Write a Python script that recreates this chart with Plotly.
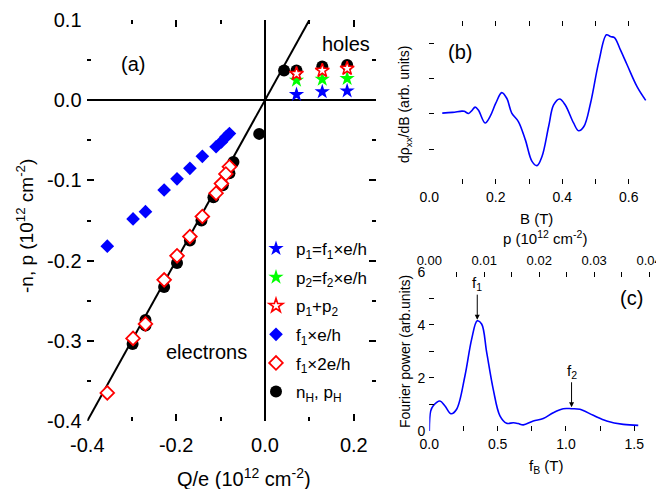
import plotly.graph_objects as go

# ---------------- panel (a): carrier densities vs induced charge ----------------
# Hall densities n_H, p_H
hall_q = [0.185, 0.129, 0.071, 0.043, -0.013, -0.071, -0.080, -0.095, -0.116,
          -0.143, -0.169, -0.198, -0.227, -0.269, -0.269, -0.298]
hall_n = [0.044, 0.042, 0.037, 0.037, -0.042, -0.077, -0.091, -0.106, -0.121,
          -0.150, -0.175, -0.203, -0.233, -0.274, -0.281, -0.304]

# hole densities from the two Fourier frequencies
hole_q = [0.071, 0.129, 0.185]
p1 = [0.007, 0.0104, 0.0116]
p2 = [0.025, 0.026, 0.027]
p_sum = [0.033, 0.037, 0.0395]

# electron densities from f1
elec_q = [-0.080, -0.088, -0.098, -0.110, -0.141, -0.169, -0.198, -0.227,
          -0.269, -0.297, -0.355]
f1_e = [-0.0415, -0.046, -0.052, -0.058, -0.070, -0.085, -0.098, -0.112,
        -0.139, -0.148, -0.182]
f1_2e = [-0.083, -0.092, -0.104, -0.116, -0.145, -0.170, -0.194, -0.224,
         -0.279, -0.297, -0.365]

# n = Q/e reference line
line_q = [-0.4, 0.1]
line_slope = 1.0

# ---------------- panel (b): derivative of rho_xx ----------------
b_field = [0.039, 0.070, 0.098, 0.105, 0.118, 0.128, 0.138, 0.148, 0.168, 0.183,
           0.200, 0.218, 0.233, 0.248, 0.268, 0.289, 0.309, 0.324, 0.339, 0.359,
           0.374, 0.392, 0.409, 0.434, 0.449, 0.465, 0.485, 0.510, 0.533, 0.545,
           0.557, 0.575, 0.595, 0.625, 0.651]
drho = [0.02, 0.04, 0.075, 0.07, 0.01, 0.09, 0.19, 0.10, -0.26, -0.075,
        0.30, 0.60, 0.44, 0.02, -0.22, -0.74, -1.35, -1.47, -1.21, -0.36,
        0.25, 0.42, 0.25, -0.26, -0.48, -0.36, 0.30, 1.48, 2.24, 2.19,
        2.16, 1.81, 1.39, 0.77, 0.38]

# ---------------- panel (c): Fourier spectrum ----------------
f_b = [0.0, 0.010, 0.029, 0.078, 0.115, 0.159, 0.200, 0.261, 0.310, 0.351,
       0.383, 0.420, 0.468, 0.517, 0.566, 0.615, 0.651, 0.688, 0.761, 0.834,
       0.907, 0.980, 1.041, 1.102, 1.200, 1.298, 1.420, 1.529]
power = [0.0, 0.75, 0.95, 1.13, 0.94, 0.65, 0.82, 2.08, 3.46, 4.15,
         4.03, 2.96, 1.57, 0.57, 0.29, 0.31, 0.28, 0.23, 0.38, 0.47,
         0.69, 0.84, 0.84, 0.82, 0.59, 0.38, 0.25, 0.21]
f1_peak = (0.351, 4.19)
f2_peak = (1.041, 0.89)
p_per_tesla = 0.02486  # density scale for the top axis

FONT = "Liberation Sans, Arial, sans-serif"
BLUE, GREEN, RED = "#0000ff", "#00ff00", "#ff0000"

fig = go.Figure()

# legend order follows insertion order; zorder sets the stacking of the marks
fig.add_trace(go.Scatter(x=line_q, y=[line_slope * q for q in line_q], mode="lines",
                         line=dict(color="black", width=2), showlegend=False, zorder=0,
                         xaxis="x", yaxis="y"))
fig.add_trace(go.Scatter(x=hole_q, y=p1, mode="markers", name="p<sub>1</sub>=f<sub>1</sub>×e/h",
                         marker=dict(symbol="star", size=11.5, color=BLUE, line=dict(width=0)),
                         legendgroup="g1", zorder=2, xaxis="x", yaxis="y"))
fig.add_trace(go.Scatter(x=hole_q, y=p2, mode="markers", name="p<sub>2</sub>=f<sub>2</sub>×e/h",
                         marker=dict(symbol="star", size=11.5, color=GREEN, line=dict(width=0)),
                         legendgroup="g2", zorder=2, xaxis="x", yaxis="y"))
fig.add_trace(go.Scatter(x=hole_q, y=p_sum, mode="markers", name="p<sub>1</sub>+p<sub>2</sub>",
                         marker=dict(symbol="star", size=10.5, color="white",
                                     line=dict(color=RED, width=1.6)),
                         legendgroup="g3", zorder=3, xaxis="x", yaxis="y"))
fig.add_trace(go.Scatter(x=elec_q, y=f1_e, mode="markers", name="f<sub>1</sub>×e/h",
                         marker=dict(symbol="diamond", size=10.5, color=BLUE, line=dict(width=0)),
                         legendgroup="g4", zorder=3, xaxis="x", yaxis="y"))
fig.add_trace(go.Scatter(x=elec_q, y=f1_2e, mode="markers", name="f<sub>1</sub>×2e/h",
                         marker=dict(symbol="diamond", size=10.5, color="white",
                                     line=dict(color=RED, width=1.8)),
                         legendgroup="g5", zorder=3, xaxis="x", yaxis="y"))
fig.add_trace(go.Scatter(x=hall_q, y=hall_n, mode="markers", name="n<sub>H</sub>, p<sub>H</sub>",
                         marker=dict(symbol="circle", size=12, color="black"),
                         legendgroup="g6", zorder=1, xaxis="x", yaxis="y"))

fig.add_trace(go.Scatter(x=b_field, y=drho, mode="lines", line=dict(color=BLUE, width=1.6, shape="spline"),
                         showlegend=False, xaxis="x2", yaxis="y2"))
fig.add_trace(go.Scatter(x=f_b, y=power, mode="lines", line=dict(color=BLUE, width=1.6, shape="spline"),
                         showlegend=False, xaxis="x3", yaxis="y3"))

W, H = 656, 489


def px_x(p):
    return p / W


def px_y(p):
    return 1 - p / H


axis_common = dict(showline=True, linecolor="black", ticks="inside", tickcolor="black",
                   showgrid=False, zeroline=False, color="black", automargin=False)

fig.update_layout(
    width=W, height=H, margin=dict(l=0, r=0, t=0, b=0, autoexpand=False),
    paper_bgcolor="white", plot_bgcolor="white",
    font=dict(family=FONT, color="black"),
    xaxis=dict(axis_common, domain=[px_x(87.3), px_x(376)], range=[-0.4, 0.25], anchor="y",
               linewidth=1.5, mirror="ticks", tickvals=[-0.4, -0.2, 0.0, 0.2],
               ticktext=["-0.4", "-0.2", "0.0", "0.2"], ticklen=7, tickwidth=1.5,
               minor=dict(dtick=0.1, tick0=0, ticks="inside", ticklen=4, tickcolor="black", tickwidth=1.5),
               tickfont=dict(size=20), ticklabelstandoff=5,
               zeroline=True, zerolinecolor="black", zerolinewidth=2),
    yaxis=dict(axis_common, domain=[px_y(421), px_y(20)], range=[-0.4, 0.1], anchor="x",
               linewidth=1.5, mirror="ticks", tickvals=[-0.4, -0.3, -0.2, -0.1, 0.0, 0.1],
               ticktext=["-0.4", "-0.3", "-0.2", "-0.1", "0.0", "0.1"], ticklen=7, tickwidth=1.5,
               minor=dict(dtick=0.05, tick0=0, ticks="inside", ticklen=4, tickcolor="black", tickwidth=1.5),
               tickfont=dict(size=20), zeroline=True, zerolinecolor="black", zerolinewidth=2),
    xaxis2=dict(axis_common, domain=[px_x(429.3), 1.0], range=[0, 0.682], anchor="y2",
                linewidth=1.3, mirror="ticks", dtick=0.2, tickformat=".1f", ticklen=5,
                minor=dict(dtick=0.1, ticks="inside", ticklen=5, tickcolor="black"),
                tickfont=dict(size=14), ticklabeloverflow="allow"),
    yaxis2=dict(axis_common, domain=[px_y(184.3), px_y(20.7)], range=[-2, 2.64], anchor="x2",
                linewidth=1.3, tickvals=[-1, 0, 1, 2], showticklabels=False, ticklen=5),
    xaxis3=dict(axis_common, domain=[px_x(429.3), 1.0], range=[0, 1.659], anchor="y3",
                linewidth=1.3, dtick=0.5, tickformat=".1f", ticklen=5,
                minor=dict(dtick=0.25, ticks="inside", ticklen=5, tickcolor="black"),
                tickfont=dict(size=14), ticklabeloverflow="allow"),
    xaxis4=dict(axis_common, overlaying="x3", side="top", anchor="y3",
                range=[0, 1.659 * p_per_tesla], linewidth=1.3, dtick=0.01, tickformat=".2f",
                ticklen=5, minor=dict(dtick=0.005, ticks="inside", ticklen=5, tickcolor="black"),
                tickfont=dict(size=13), ticklabeloverflow="allow"),
    yaxis3=dict(axis_common, domain=[px_y(431), px_y(271.7)], range=[0, 6], anchor="x3",
                linewidth=1.3, dtick=2, ticklen=5,
                minor=dict(dtick=1, ticks="inside", ticklen=5, tickcolor="black"),
                tickfont=dict(size=14)),
    legend=dict(x=px_x(256), y=px_y(231), xanchor="left", yanchor="top",
                bgcolor="rgba(0,0,0,0)", font=dict(size=17), itemwidth=30,
                traceorder="grouped", tracegroupgap=3.5),
    showlegend=True,
)

# keep the top density axis visible
fig.add_trace(go.Scatter(x=[0], y=[0], mode="markers", marker=dict(opacity=0), showlegend=False,
                         hoverinfo="skip", xaxis="x4", yaxis="y3"))

annotations = [
    # panel (a)
    dict(x=-0.297, y=0.0456, xref="x", yref="y", text="(a)", font=dict(size=20)),
    dict(x=0.182, y=0.0707, xref="x", yref="y", text="holes", font=dict(size=20)),
    dict(x=-0.131, y=-0.314, xref="x", yref="y", text="electrons", font=dict(size=20)),
    dict(x=px_x(244), y=px_y(477), xref="paper", yref="paper",
         text="Q/e (10<sup>12</sup> cm<sup>-2</sup>)", font=dict(size=20)),
    dict(x=px_x(25), y=px_y(226), xref="paper", yref="paper", textangle=-90,
         text="-n, p (10<sup>12</sup> cm<sup>-2</sup>)", font=dict(size=19)),
    # panel (b)
    dict(x=0.092, y=1.765, xref="x2", yref="y2", text="(b)", font=dict(size=20)),
    dict(x=px_x(536), y=px_y(218), xref="paper", yref="paper", text="B (T)", font=dict(size=15)),
    dict(x=px_x(405), y=px_y(105), xref="paper", yref="paper", textangle=-90,
         text="dρ<sub>xx</sub>/dB (arb. units)", font=dict(size=14)),
    # panel (c)
    dict(x=1.481, y=5.0, xref="x3", yref="y3", text="(c)", font=dict(size=20)),
    dict(x=px_x(545), y=px_y(237), xref="paper", yref="paper",
         text="p (10<sup>12</sup> cm<sup>-2</sup>)", font=dict(size=15)),
    dict(x=px_x(546), y=px_y(466), xref="paper", yref="paper",
         text="f<sub>B</sub> (T)", font=dict(size=15)),
    dict(x=px_x(405), y=px_y(352), xref="paper", yref="paper", textangle=-90,
         text="Fourier power (arb.units)", font=dict(size=14)),
]
for a in annotations:
    a.update(showarrow=False, xanchor="center", yanchor="middle")

# arrows marking the two Fourier peaks
annotations += [
    dict(x=f1_peak[0], y=f1_peak[1], xref="x3", yref="y3", ax=f1_peak[0], ay=5.55,
         axref="x3", ayref="y3", text="f<sub>1</sub>", font=dict(size=15),
         showarrow=True, arrowhead=2, arrowsize=1, arrowwidth=1, arrowcolor="black"),
    dict(x=f2_peak[0], y=f2_peak[1], xref="x3", yref="y3", ax=f2_peak[0], ay=2.25,
         axref="x3", ayref="y3", text="f<sub>2</sub>", font=dict(size=15),
         showarrow=True, arrowhead=2, arrowsize=1, arrowwidth=1, arrowcolor="black"),
]
fig.update_layout(annotations=annotations)

fig.write_html("out.html")
